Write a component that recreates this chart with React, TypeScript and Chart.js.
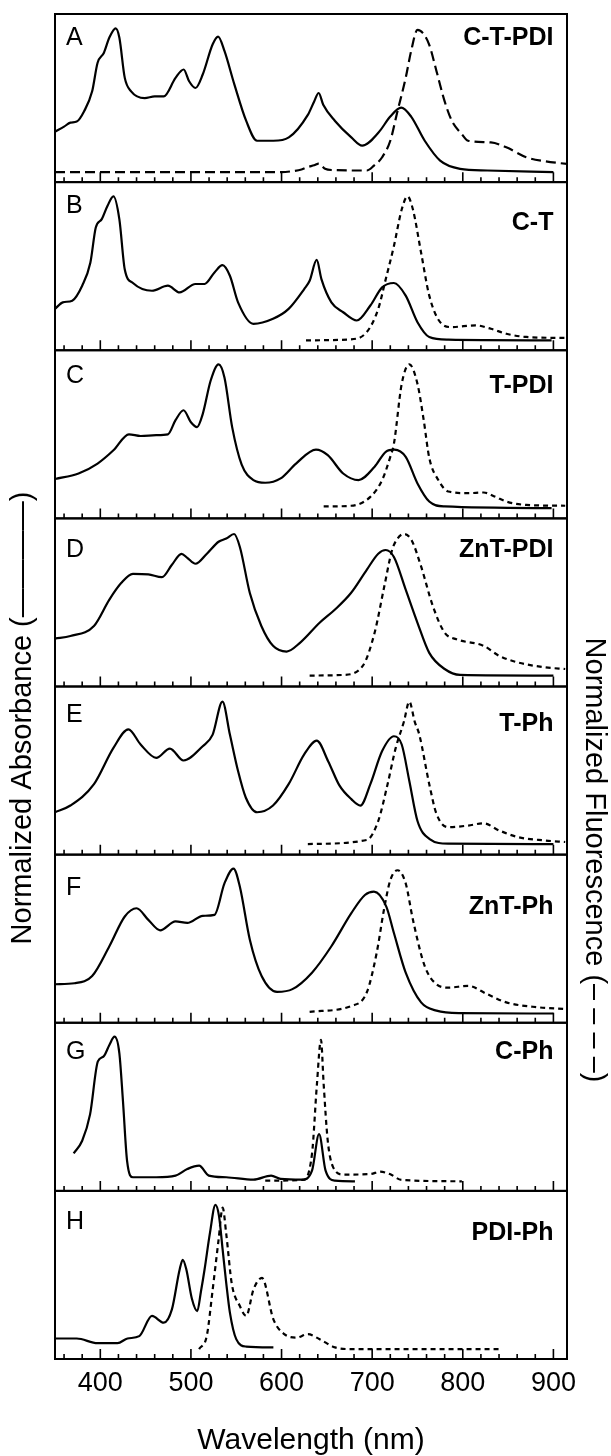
import React, { useEffect, useRef } from "react";
import { Chart, registerables } from "chart.js";

Chart.register(...registerables);

const FONT = "'Liberation Sans', Arial, Helvetica, sans-serif";

// ---- categories / labels ----
const PANEL_LETTERS = ["A", "B", "C", "D", "E", "F", "G", "H"];
const PANEL_NAMES = ["C-T-PDI", "C-T", "T-PDI", "ZnT-PDI", "T-Ph", "ZnT-Ph", "C-Ph", "PDI-Ph"];
const X_TICKS = [400, 500, 600, 700, 800, 900];
const X_MINOR = [360, 380, 420, 440, 460, 480, 520, 540, 560, 580, 620, 640, 660, 680, 720, 740, 760, 780, 820, 840, 860, 880];
const X_MIN = 350;
const X_MAX = 915;
const X_TITLE = "Wavelength (nm)";
const LEFT_TITLE = "Normalized Absorbance (————)";
const RIGHT_TITLE = "Normalized Fluorescence (– – – –)";

// ---- series: [wavelength nm, normalized intensity] ----
const A_ABS = [[350, .30], [360, .33], [367, .354], [374, .36], [382, .42], [391, .54], [397, .71], [404, .77], [410, .86], [417, .915], [421, .86], [427, .62], [434, .54], [449, .50], [460, .51], [470, .51], [483, .62], [492, .67], [498, .60], [505, .56], [513, .64], [524, .82], [530, .866], [537, .78], [548, .58], [561, .364], [573, .246], [591, .246], [608, .266], [629, .40], [636, .48], [641, .53], [646, .46], [659, .364], [677, .266], [689, .217], [707, .295], [720, .39], [732, .443], [743, .39], [758, .246], [775, .128], [797, .079], [827, .069], [900, .059]];
const A_FL = [[350, .059], [600, .059], [612, .065], [622, .075], [629, .09], [636, .10], [641, .11], [648, .08], [655, .072], [694, .069], [702, .098], [711, .148], [720, .246], [728, .423], [737, .62], [743, .78], [750, .905], [756, .886], [763, .817], [771, .66], [780, .48], [788, .364], [799, .285], [806, .246], [831, .236], [848, .207], [870, .148], [891, .124], [915, .108]];

const B_ABS = [[350, .246], [358.6, .285], [369, .295], [380, .384], [389, .52], [395, .73], [401.6, .78], [408, .86], [414.5, .915], [421, .78], [427, .48], [436, .40], [457, .354], [474.6, .384], [487.5, .344], [505, .394], [515, .394], [526, .463], [534.8, .506], [543, .443], [552, .285], [569, .157], [590.6, .187], [607.8, .246], [625, .364], [631, .413], [638.8, .537], [644, .423], [655, .285], [668, .226], [683, .177], [698, .266], [711, .374], [724, .40], [737, .325], [750, .167], [763, .079], [784, .063], [898, .059]];
const B_FL = [[627, .059], [676.6, .065], [694, .108], [706.7, .246], [715, .423], [724, .62], [732.6, .837], [739, .915], [745, .837], [754, .58], [763, .325], [775, .167], [788, .138], [814, .148], [831, .128], [848, .098], [870, .079], [913, .073]];

const C_ABS = [[350, .234], [376, .267], [397, .326], [414.5, .405], [431.6, .50], [444.5, .49], [461.7, .495], [474.6, .50], [483, .584], [491.8, .643], [500, .572], [506.8, .543], [513, .62], [521.8, .82], [530.5, .916], [537, .838], [545.5, .543], [556, .32], [569, .228], [582, .212], [599, .238], [616, .326], [638, .409], [651, .376], [668, .267], [685, .228], [702.7, .307], [715, .396], [724.6, .409], [737, .366], [750, .208], [763, .10], [780, .071], [898, .061]];
const C_FL = [[646.5, .071], [676.6, .075], [698, .128], [711, .228], [720, .366], [724, .444], [732.6, .80], [741, .916], [750, .80], [757, .58], [763, .36], [773, .228], [784, .16], [806, .15], [823, .154], [836, .128], [848, .10], [870, .08], [913, .075]];

const D_ABS = [[350, .285], [367, .30], [393, .36], [410, .517], [423, .615], [436, .67], [453, .667], [468, .65], [479, .724], [489.6, .789], [496, .765], [505, .73], [517.6, .79], [530.5, .861], [539, .88], [547.6, .907], [554, .83], [565, .556], [577.7, .36], [590.6, .242], [605.6, .208], [620.6, .261], [642, .379], [659, .458], [676.6, .556], [694, .694], [706.7, .79], [715, .812], [724, .77], [737, .576], [750, .379], [763, .20], [780, .104], [797, .069], [900, .065]];
const D_FL = [[631, .065], [668, .069], [689.8, .124], [702.7, .32], [713.4, .596], [722, .812], [728, .88], [735, .907], [743.5, .87], [754, .714], [767, .478], [780, .32], [793, .281], [823, .242], [840, .183], [861, .143], [891, .114], [913, .104]];

const E_ABS = [[350, .252], [367, .292], [393, .419], [414.5, .635], [431, .745], [444.5, .655], [461.7, .576], [476.8, .631], [491.8, .56], [513, .645], [524, .714], [534.8, .91], [543, .714], [552, .497], [560.5, .34], [573, .252], [590.6, .292], [607.8, .419], [625, .596], [638.8, .678], [651.4, .556], [664, .41], [677, .33], [687, .292], [698, .419], [711, .616], [724, .704], [732.6, .655], [741, .438], [750, .20], [763, .094], [784, .065], [900, .063]];
const E_FL = [[629, .063], [694, .087], [706.7, .20], [717, .419], [726, .635], [735, .79], [741, .91], [747, .79], [752, .714], [763, .419], [771, .242], [784, .163], [806, .173], [823, .186], [840, .144], [861, .104], [891, .084], [913, .075]];

const F_ABS = [[350, .229], [371.5, .235], [391, .278], [410, .455], [427, .632], [440, .681], [453, .612], [466, .55], [483, .603], [496, .594], [513, .636], [526, .642], [537, .829], [547, .917], [554, .809], [565, .494], [578, .278], [595, .184], [612, .20], [633.6, .298], [655, .455], [677, .652], [692, .76], [702, .78], [715.6, .691], [724, .534], [737, .298], [754, .121], [771, .072], [797, .057], [900, .055]];
const F_FL = [[631, .065], [677, .10], [694, .18], [705, .416], [713, .672], [720, .848], [728, .907], [737, .829], [745, .612], [758, .337], [771, .229], [784, .209], [806, .219], [827, .17], [848, .121], [883, .092], [913, .082]];

const G_ABS = [[370.6, .223], [380, .298], [388.7, .455], [397.3, .77], [403.7, .80], [410, .868], [415.7, .917], [421, .82], [425, .534], [429.5, .18], [436, .081], [461.7, .081], [483, .091], [496, .13], [509, .15], [519.7, .091], [539, .081], [569, .067], [588.5, .091], [599, .071], [622.8, .067], [633.6, .12], [641.4, .337], [648.6, .12], [659, .061], [681, .057]];
const G_FL = [[582, .061], [623, .065], [633.6, .22], [639, .632], [643.5, .898], [646.5, .632], [651, .297], [657, .14], [668, .097], [698, .10], [708.8, .114], [719.5, .10], [732.6, .065], [799, .057]];

const H_ABS = [[350, .122], [374, .122], [397, .094], [419, .094], [430, .122], [443, .136], [457, .256], [470, .216], [479, .295], [487.5, .531], [491, .59], [495, .531], [501, .36], [507, .285], [511, .40], [515, .531], [521, .75], [527, .917], [531, .85], [535, .65], [539, .45], [543, .276], [550, .118], [561, .074], [591, .069]];
const H_FL = [[509, .059], [517.5, .138], [524, .413], [530.5, .708], [535, .90], [539, .743], [545, .45], [554, .315], [561, .256], [569, .413], [578.4, .482], [591, .236], [603, .148], [616, .127], [629, .148], [642, .118], [659, .069], [677, .059], [842, .059]];

const ABS_SERIES = [A_ABS, B_ABS, C_ABS, D_ABS, E_ABS, F_ABS, G_ABS, H_ABS];
const FL_SERIES = [A_FL, B_FL, C_FL, D_FL, E_FL, F_FL, G_FL, H_FL];

// ---- layout (pixels) ----
const W = 611;
const H = 1456;
const LETTER_OFFSET = [13, 13, 15, 21, 17, 22, 18, 20];
const NAME_OFFSET = [13, 30, 25, 21, 26, 41, 18, 31];
const INK = "#000";

const panelsPlugin = {
  id: "panels",
  afterDatasetsDraw(chart: any) {
    const { ctx, chartArea, scales } = chart;
    const xs = scales.x;
    ctx.save();
    for (let i = 0; i < PANEL_LETTERS.length; i++) {
      const ys = scales["y" + i];
      const top = ys.getPixelForValue(1);
      const bottom = ys.getPixelForValue(0);
      ctx.strokeStyle = INK;
      ctx.lineWidth = 2;
      ctx.strokeRect(chartArea.left, top, chartArea.right - chartArea.left, bottom - top);
      ctx.lineWidth = 1.6;
      ctx.beginPath();
      X_TICKS.forEach((v) => {
        const x = xs.getPixelForValue(v);
        ctx.moveTo(x, bottom);
        ctx.lineTo(x, bottom - 10);
      });
      X_MINOR.forEach((v) => {
        const x = xs.getPixelForValue(v);
        ctx.moveTo(x, bottom);
        ctx.lineTo(x, bottom - 5);
      });
      ctx.stroke();
      ctx.fillStyle = INK;
      ctx.textBaseline = "alphabetic";
      ctx.font = `25px ${FONT}`;
      ctx.textAlign = "left";
      ctx.fillText(PANEL_LETTERS[i], 66, top + LETTER_OFFSET[i] + 18);
      ctx.font = `bold 25px ${FONT}`;
      ctx.textAlign = "right";
      ctx.fillText(PANEL_NAMES[i], xs.getPixelForValue(900), top + NAME_OFFSET[i] + 18);
    }
    // side titles
    ctx.fillStyle = INK;
    ctx.font = `29px ${FONT}`;
    ctx.textAlign = "center";
    ctx.textBaseline = "middle";
    ctx.save();
    ctx.translate(23, 718);
    ctx.rotate(-Math.PI / 2);
    ctx.fillText(LEFT_TITLE, 0, 0);
    ctx.restore();
    ctx.save();
    ctx.translate(594, 860);
    ctx.rotate(Math.PI / 2);
    ctx.fillText(RIGHT_TITLE, 0, 0);
    ctx.restore();
    ctx.restore();
  },
};

export default function App() {
  const ref = useRef<HTMLCanvasElement | null>(null);
  useEffect(() => {
    if (!ref.current) return;
    Chart.defaults.font.family = FONT;
    const n = PANEL_LETTERS.length;
    const datasets: any[] = [];
    const scales: any = {
      x: {
        type: "linear",
        min: X_MIN,
        max: X_MAX,
        afterBuildTicks: (scale: any) => {
          scale.ticks = X_TICKS.map((v) => ({ value: v }));
        },
        grid: { display: false, drawTicks: false },
        border: { display: false },
        ticks: { color: INK, font: { size: 27, lineHeight: 1 }, padding: 11, maxRotation: 0, autoSkip: false },
        title: { display: true, text: X_TITLE, color: INK, font: { size: 30, lineHeight: 1 }, padding: { top: 18, bottom: 0 } },
      },
    };
    for (let i = 0; i < n; i++) {
      scales["y" + i] = { type: "linear", display: false, min: -(n - 1 - i), max: 1 + i };
      datasets.push({
        data: ABS_SERIES[i].map(([x, y]) => ({ x, y })),
        yAxisID: "y" + i,
        borderColor: INK,
        borderWidth: 2.2,
        pointRadius: 0,
        fill: false,
        cubicInterpolationMode: "monotone",
      });
      datasets.push({
        data: FL_SERIES[i].map(([x, y]) => ({ x, y })),
        yAxisID: "y" + i,
        borderColor: INK,
        borderWidth: 2.2,
        borderDash: i === 0 ? [10, 5] : [5, 4],
        pointRadius: 0,
        fill: false,
        cubicInterpolationMode: "monotone",
      });
    }
    const chart = new Chart(ref.current, {
      type: "line",
      data: { datasets },
      options: {
        animation: false,
        responsive: false,
        maintainAspectRatio: false,
        layout: { padding: { left: 55, right: 44, top: 14, bottom: 0 } },
        plugins: { legend: { display: false }, tooltip: { enabled: false } },
        scales,
      },
      plugins: [panelsPlugin],
    } as any);
    return () => chart.destroy();
  }, []);
  return (
    <div style={{ position: "absolute", left: 0, top: 0, width: W, height: H, background: "#fff" }}>
      <canvas ref={ref} width={W} height={H} style={{ display: "block", width: W, height: H }} />
    </div>
  );
}
